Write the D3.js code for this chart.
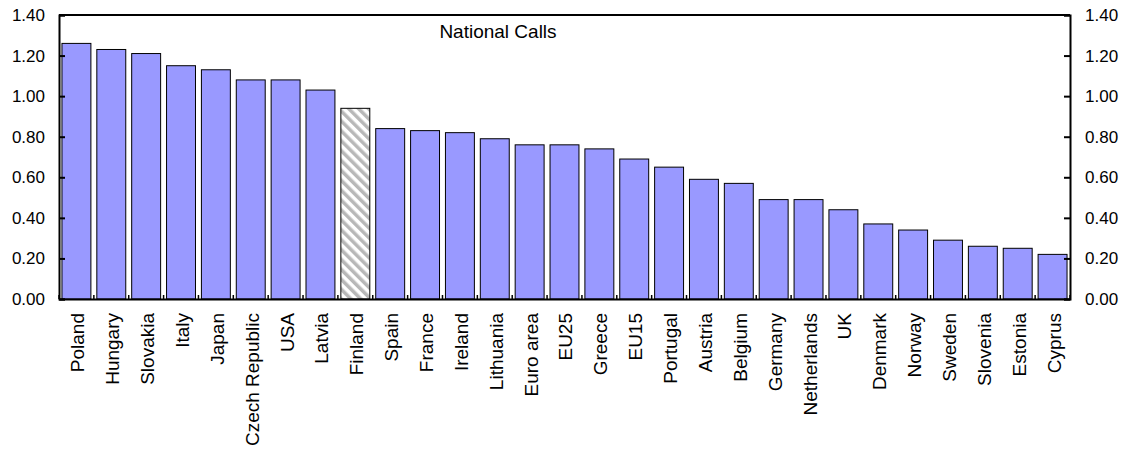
<!DOCTYPE html>
<html>
<head>
<meta charset="utf-8">
<script src="https://cdn.jsdelivr.net/npm/d3@7"></script>
<style>
  html, body { margin: 0; padding: 0; background: #ffffff; }
  svg { display: block; }
  text { font-family: "Liberation Sans", Arial, sans-serif; fill: #000; }
</style>
</head>
<body>
<svg id="chart" width="1130" height="450"></svg>
<script>
// National call prices by country
const categories = ["Poland", "Hungary", "Slovakia", "Italy", "Japan", "Czech Republic", "USA", "Latvia", "Finland",
  "Spain", "France", "Ireland", "Lithuania", "Euro area", "EU25", "Greece", "EU15", "Portugal", "Austria",
  "Belgium", "Germany", "Netherlands", "UK", "Denmark", "Norway", "Sweden", "Slovenia", "Estonia", "Cyprus"];
const values = [1.26, 1.23, 1.21, 1.15, 1.13, 1.08, 1.08, 1.03, 0.94,
  0.84, 0.83, 0.82, 0.79, 0.76, 0.76, 0.74, 0.69, 0.65, 0.59,
  0.57, 0.49, 0.49, 0.44, 0.37, 0.34, 0.29, 0.26, 0.25, 0.22];
const highlighted = ["Finland"];
const yTicks = [0, 0.2, 0.4, 0.6, 0.8, 1.0, 1.2, 1.4];
const title = "National Calls";

const data = categories.map((c, i) => ({ name: c, value: values[i] }));

const svg = d3.select("#chart");
const plot = { left: 59, right: 1070, top: 15, bottom: 299 };

const x = d3.scaleBand()
  .domain(categories)
  .range([plot.left, plot.right])
  .paddingInner(0.17)
  .paddingOuter(0.085);

const y = d3.scaleLinear()
  .domain([0, 1.4])
  .range([plot.bottom, plot.top]);

// diagonal hatch for the highlighted bar
const defs = svg.append("defs");
const pat = defs.append("pattern")
  .attr("id", "hatch")
  .attr("patternUnits", "userSpaceOnUse")
  .attr("width", 7)
  .attr("height", 7)
  .attr("patternTransform", "rotate(-45)");
pat.append("rect").attr("width", 7).attr("height", 7).attr("fill", "#ffffff");
pat.append("rect").attr("width", 3.5).attr("height", 7).attr("fill", "#b8b8b8");

// bars
svg.append("g")
  .selectAll("rect")
  .data(data)
  .join("rect")
  .attr("x", d => x(d.name))
  .attr("y", d => y(d.value))
  .attr("width", x.bandwidth())
  .attr("height", d => y(0) - y(d.value))
  .attr("fill", d => highlighted.includes(d.name) ? "url(#hatch)" : "#9999ff")
  .attr("stroke", "#000")
  .attr("stroke-width", 1);

// frame: top border
svg.append("line")
  .attr("x1", plot.left).attr("x2", plot.right)
  .attr("y1", plot.top).attr("y2", plot.top)
  .attr("stroke", "#000").attr("stroke-width", 2);

// y axes on both sides, ticks pointing inward
const fmt = d3.format(".2f");
const leftAxis = svg.append("g")
  .attr("transform", `translate(${plot.left},0)`)
  .call(d3.axisLeft(y).tickValues(yTicks).tickFormat(fmt).tickSize(-6).tickPadding(14));
const rightAxis = svg.append("g")
  .attr("transform", `translate(${plot.right},0)`)
  .call(d3.axisRight(y).tickValues(yTicks).tickFormat(fmt).tickSize(-6).tickPadding(15));

[leftAxis, rightAxis].forEach(g => {
  g.select(".domain").attr("stroke", "#000").attr("stroke-width", 2);
  g.selectAll(".tick line").attr("stroke", "#000").attr("stroke-width", 2);
  g.selectAll(".tick text")
    .style("font-family", "'Liberation Sans', Arial, sans-serif")
    .style("font-size", "17px")
    .attr("fill", "#000");
});

// x axis: baseline with small ticks at category boundaries
const xAxis = svg.append("g")
  .attr("transform", `translate(0,${plot.bottom})`)
  .call(d3.axisBottom(x).tickSize(0).tickPadding(14));
xAxis.select(".domain").attr("stroke", "#000").attr("stroke-width", 2);
xAxis.selectAll(".tick text")
  .style("font-family", "'Liberation Sans', Arial, sans-serif")
  .style("font-size", "19px")
  .attr("fill", "#000")
  .attr("transform", "rotate(-90)")
  .attr("text-anchor", "end")
  .attr("x", -14)
  .attr("y", 0)
  .attr("dy", "0.42em");

const step = x.step();
const half = (step - x.bandwidth()) / 2;
const bounds = [x(categories[0]) - half].concat(categories.map(c => x(c) + x.bandwidth() + half));
svg.append("g")
  .selectAll("line")
  .data(bounds)
  .join("line")
  .attr("x1", d => d).attr("x2", d => d)
  .attr("y1", plot.bottom).attr("y2", plot.bottom - 4)
  .attr("stroke", "#000").attr("stroke-width", 1.5);

// chart title inside the plot
svg.append("text")
  .attr("x", 498)
  .attr("y", 38)
  .attr("text-anchor", "middle")
  .style("font-size", "19px")
  .text(title);
</script>
</body>
</html>
